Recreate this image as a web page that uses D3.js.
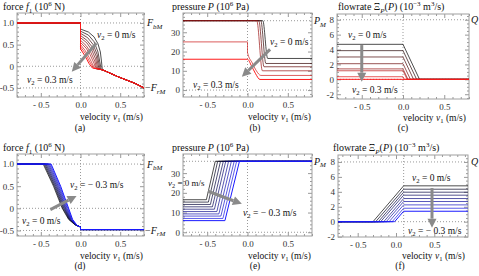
<!DOCTYPE html>
<html>
<head>
<meta charset="utf-8">
<script src="https://cdn.jsdelivr.net/npm/d3@7"></script>
<style>
body { margin: 0; background: #fff; }
svg { display: block; }
</style>
</head>
<body>
<div id="vis"></div>
<script>
// ---------- data ----------
var xTicks = [-0.5, 0, 0.5];
var xTickLabels = ['- 0.5', '0.0', '0.5'];

// (a) force f1, v2 = 0 .. 0.3 m/s, black -> red
var forceBrake = 1.0;   // F_bM
var forceRev = -0.5;    // -F_rM
var aBase = [[0.15,-0.04],[0.25,-0.07],[0.3,-0.1],[0.47,-0.24],[0.68,-0.39],[0.8,-0.5]];
var aFan = [
  [[0,0.86],[0.1,0.79],[0.17,0.68],[0.22,0.52],[0.25,0.33],[0.265,0.1],[0.275,-0.08]],
  [[0,0.81],[0.1,0.72],[0.17,0.57],[0.22,0.33],[0.261,-0.075]],
  [[0,0.76],[0.09,0.66],[0.16,0.5],[0.21,0.27],[0.247,-0.07]],
  [[0,0.71],[0.08,0.6],[0.15,0.44],[0.2,0.22],[0.233,-0.065]],
  [[0,0.66],[0.08,0.54],[0.14,0.38],[0.19,0.17],[0.219,-0.06]],
  [[0,0.6],[0.07,0.48],[0.13,0.32],[0.18,0.12],[0.206,-0.06]],
  [[0,0.55],[0.07,0.42],[0.12,0.27],[0.17,0.07],[0.192,-0.055]],
  [[0,0.5],[0.06,0.36],[0.11,0.2],[0.178,-0.05]],
  [[0,0.45],[0.06,0.3],[0.11,0.12],[0.164,-0.045]],
  [[0,0.4],[0.06,0.23],[0.105,0.07],[0.15,-0.04]]
];

// (b) pressure P, v2 = 0 .. 0.3 m/s, black -> red
var pressMax = 36;      // P_M
var bCurves = [
  [[-0.8,36],[0.19,36],[0.25,16.4],[0.8,16.4]],
  [[-0.8,36],[0.165,36],[0.228,13.8],[0.8,13.8]],
  [[-0.8,36],[0.14,36],[0.205,12.1],[0.8,12.1]],
  [[-0.8,36],[0.115,36],[0.185,10.0],[0.8,10.0]],
  [[-0.8,25],[0,25],[0.0001,19.5],[0.06,14],[0.11,10],[0.165,7.6],[0.8,7.6]],
  [[-0.8,16],[0,16],[0.05,12.5],[0.1,8.5],[0.155,5.5],[0.8,5.5]]
];

// (c) flowrate, v2 = 0 .. 0.3 m/s, black -> red
var flowMax = 8;        // Q_M
var cLevels = [4.7, 3.85, 3.0, 2.1, 1.4, 1.15, 0.35, 0];
var cEnd = [0.2, 0.165, 0.128, 0.09, 0.06, 0.05, 0.015, 0];

// (d) force f1, v2 = 0 .. -0.3 m/s, black -> blue
var dY = [1.0, 0.5, 0.0, -0.25, -0.37];
var dX = [
  [-0.470,-0.340,-0.230,-0.150,-0.070],
  [-0.459,-0.330,-0.221,-0.144,-0.068],
  [-0.448,-0.320,-0.212,-0.139,-0.066],
  [-0.437,-0.310,-0.203,-0.133,-0.063],
  [-0.426,-0.300,-0.194,-0.128,-0.061],
  [-0.414,-0.290,-0.186,-0.122,-0.059],
  [-0.403,-0.280,-0.177,-0.117,-0.057],
  [-0.392,-0.270,-0.168,-0.111,-0.054],
  [-0.381,-0.260,-0.159,-0.106,-0.052],
  [-0.370,-0.250,-0.150,-0.100,-0.050]
];
var dTail = [[-0.03,-0.40],[0,-0.42],[0,-0.48],[0.8,-0.48]];

// (e) pressure P, v2 = 0 .. -0.3 m/s, black -> blue
var eLow = [16.5, 15.3, 14.1, 12.9, 11.7, 10.5, 9.3, 8.2, 7.0, 5.9];
var eRise = [-0.51, -0.485, -0.46, -0.435, -0.41, -0.38, -0.355, -0.33, -0.305, -0.28];
var eTop = [-0.40, -0.37, -0.335, -0.30, -0.27, -0.235, -0.20, -0.165, -0.135, -0.10];

// (f) flowrate, v2 = 0 .. -0.3 m/s, black -> blue
var fLevels = [4.8, 4.35, 3.95, 3.55, 3.1, 2.7, 2.25, 1.8, 1.4];
var fStart = [-0.30, -0.265, -0.23, -0.2, -0.16, -0.127, -0.09, -0.05, -0.018];
var fCorner = 0.1;

// ---------- drawing ----------
var svg = d3.select('#vis').append('svg')
  .attr('width', 479)
  .attr('height', 276)
  .style('font-family', '"Liberation Serif", "Times New Roman", serif');

var black2red = d3.interpolateRgb('#000000', '#ff1a1a');
var black2blue = d3.interpolateRgb('#000000', '#1a1aff');

// text with italic / sub / sup pieces
function rich(g, x, y, parts, size, anchor) {
  var t = g.append('text')
    .attr('x', x).attr('y', y)
    .attr('font-size', size)
    .attr('fill', '#111')
    .attr('text-anchor', anchor || 'start');
  var shift = 0;
  parts.forEach(function(p) {
    var st = p[1] || '';
    var s = t.append('tspan').text(p[0]);
    var want = 0, fs = size;
    if (st.indexOf('sub') >= 0) { want = size * 0.25; fs = size * 0.7; }
    if (st.indexOf('sup') >= 0) { want = -size * 0.4; fs = size * 0.7; }
    if (st[0] === 'i') s.attr('font-style', 'italic');
    s.attr('dy', want - shift).attr('font-size', fs);
    shift = want;
  });
  return t;
}

function arrow(g, x1, y1, x2, y2) {
  var dx = x2 - x1, dy = y2 - y1, L = Math.sqrt(dx*dx + dy*dy);
  var ux = dx / L, uy = dy / L, hl = 9, hw = 4.5;
  var bx = x2 - ux * hl, by = y2 - uy * hl;
  g.append('line')
    .attr('x1', x1).attr('y1', y1).attr('x2', bx).attr('y2', by)
    .attr('stroke', '#8a8a8a').attr('stroke-width', 3);
  g.append('path')
    .attr('d', 'M' + x2 + ',' + y2 + 'L' + (bx - uy*hw) + ',' + (by + ux*hw) +
               'L' + (bx + uy*hw) + ',' + (by - ux*hw) + 'Z')
    .attr('fill', '#8a8a8a');
}

function isMajor(v, list) {
  return list.some(function(m) { return Math.abs(m - v) < 1e-9; });
}

function makePanel(p) {
  var g = svg.append('g');
  var x = d3.scaleLinear().domain(p.xd).range(p.xr);
  var y = d3.scaleLinear().domain(p.yd).range([p.yr[1], p.yr[0]]);

  // dotted reference lines
  p.hl.forEach(function(v) {
    g.append('line')
      .attr('x1', p.xr[0]).attr('x2', p.xr[1]).attr('y1', y(v)).attr('y2', y(v))
      .attr('stroke', '#999').attr('stroke-dasharray', '1,2');
  });
  p.vl.forEach(function(v) {
    g.append('line')
      .attr('x1', x(v)).attr('x2', x(v)).attr('y1', p.yr[0]).attr('y2', p.yr[1])
      .attr('stroke', '#999').attr('stroke-dasharray', '1,2');
  });

  // minor tick positions
  var xMin = d3.range(-20, 21).map(function(i) { return i / 10; })
    .filter(function(v) { return v >= p.xd[0] && v <= p.xd[1] && !isMajor(v, xTicks); });
  var yMin = d3.range(Math.ceil(p.yd[0] / p.ym), Math.floor(p.yd[1] / p.ym) + 1)
    .map(function(i) { return i * p.ym; })
    .filter(function(v) { return !isMajor(v, p.yt); });

  var axes = [
    [d3.axisBottom(x).tickValues(xTicks).tickFormat(function(d, i) { return xTickLabels[i]; }), 'translate(0,' + p.yr[1] + ')', 4],
    [d3.axisTop(x).tickValues(xTicks).tickFormat(''), 'translate(0,' + p.yr[0] + ')', 4],
    [d3.axisLeft(y).tickValues(p.yt).tickFormat(p.yf), 'translate(' + p.xr[0] + ',0)', 4],
    [d3.axisRight(y).tickValues(p.yt).tickFormat(''), 'translate(' + p.xr[1] + ',0)', 4],
    [d3.axisBottom(x).tickValues(xMin).tickFormat(''), 'translate(0,' + p.yr[1] + ')', 2],
    [d3.axisTop(x).tickValues(xMin).tickFormat(''), 'translate(0,' + p.yr[0] + ')', 2],
    [d3.axisLeft(y).tickValues(yMin).tickFormat(''), 'translate(' + p.xr[0] + ',0)', 2],
    [d3.axisRight(y).tickValues(yMin).tickFormat(''), 'translate(' + p.xr[1] + ',0)', 2]
  ];
  axes.forEach(function(a, i) {
    var ag = g.append('g').attr('transform', a[1])
      .call(a[0].tickSize(-a[2]).tickPadding(i === 0 ? 5 : 3));
    ag.attr('font-family', null).attr('font-size', 9);
    ag.select('.domain').remove();
    ag.selectAll('.tick line').attr('stroke', '#999');
    ag.selectAll('.tick text').attr('fill', '#333');
  });

  // frame
  g.append('rect')
    .attr('x', p.xr[0]).attr('y', p.yr[0])
    .attr('width', p.xr[1] - p.xr[0]).attr('height', p.yr[1] - p.yr[0])
    .attr('fill', 'none').attr('stroke', '#a0a0a0');

  var line = d3.line().x(function(d) { return x(d[0]); }).y(function(d) { return y(d[1]); });
  return { g: g, x: x, y: y, line: line };
}

function drawCurve(P, pts, color, width, curve) {
  P.g.append('path')
    .attr('d', P.line.curve(curve || d3.curveLinear)(pts))
    .attr('fill', 'none').attr('stroke', color).attr('stroke-width', width);
}

var fmtForce = function(d) { return d === 1 ? '1.0' : d === 0.5 ? '0.5' : d === 0 ? '0' : '-0.5'; };
var fmtInt = function(d) { return String(d); };

var rowTitle = [10, 151];
var rowVel = [120, 259];
var rowTag = [131, 269];

var velParts = [['velocity '], ['v', 'i'], ['1', 'sub'], [' (m/s)']];
var forceTitle = [['force '], ['f', 'i'], ['1', 'sub'], [' (10'], ['6', 'sup'], [' N)']];
var pressTitle = [['pressure '], ['P', 'i'], [' (10'], ['6', 'sup'], [' Pa)']];
var flowTitle = [['flowrate \u039E'], ['P', 'isub'], ['('], ['P', 'i'], [') (10'], ['\u22123', 'sup'], [' m'], ['3', 'sup'], ['/s)']];
function vLabel(rest) { return [['v', 'i'], ['2', 'sub'], [rest]]; }
function lw(k, n) { return k === n - 1 ? 1 : 0.7; }

// ---- (a) ----
var A = makePanel({ xr: [17, 144], yr: [13, 97], xd: [-0.8, 0.8], yd: [-0.71, 1.23],
  yt: [-0.5, 0, 0.5, 1], yf: fmtForce, ym: 0.1, hl: [forceBrake, 0, forceRev], vl: [0] });
aFan.forEach(function(fan, k) {
  var last = fan[fan.length - 1][0];
  var pts = [[-0.8, forceBrake], [0, forceBrake]].concat(fan, aBase.filter(function(p) { return p[0] > last; }));
  drawCurve(A, pts, black2red(k / (aFan.length - 1)), lw(k, aFan.length));
});
arrow(A.g, A.x(0.2), A.y(0.53), A.x(-0.11), A.y(-0.125));
rich(A.g, 97, 38, vLabel(' = 0 m/s'), 9.5);
rich(A.g, 27, 83, vLabel(' = 0.3 m/s'), 9.5);
rich(A.g, 3, rowTitle[0], forceTitle, 10);
rich(A.g, 80, rowVel[0], velParts, 9.5);
rich(A.g, 80, rowTag[0], [['(a)']], 9.5, 'middle');
rich(A.g, 147, A.y(forceBrake) + 3.5, [['F', 'i'], ['bM', 'isub']], 10);
rich(A.g, 145, A.y(forceRev) + 3.5, [['\u2212'], ['F', 'i'], ['rM', 'isub']], 10);

// ---- (b) ----
var B = makePanel({ xr: [183, 312], yr: [13, 97], xd: [-0.8, 0.8], yd: [-3.6, 40],
  yt: [0, 10, 20, 30], yf: fmtInt, ym: 2, hl: [pressMax, 0], vl: [0] });
bCurves.forEach(function(c, k) {
  drawCurve(B, c, black2red(k / (bCurves.length - 1)), lw(k, bCurves.length), d3.curveMonotoneX);
});
arrow(B.g, B.x(0.28), B.y(21.1), B.x(-0.07), B.y(6.9));
rich(B.g, 270, 45, vLabel(' = 0 m/s'), 9.5);
rich(B.g, 193, 88, vLabel(' = 0.3 m/s'), 9.5);
rich(B.g, 172, rowTitle[0], pressTitle, 10);
rich(B.g, 248, rowVel[0], velParts, 9.5);
rich(B.g, 255, rowTag[0], [['(b)']], 9.5, 'middle');
rich(B.g, 314, B.y(pressMax) + 3.5, [['P', 'i'], ['M', 'isub']], 10);

// ---- (c) ----
var C = makePanel({ xr: [337, 469], yr: [14, 99], xd: [-0.8, 0.8], yd: [-2.64, 8.77],
  yt: [-2, 0, 2, 4, 6, 8], yf: fmtInt, ym: 0.5, hl: [flowMax, 0], vl: [0] });
cLevels.forEach(function(L, k) {
  var pts = L > 0 ? [[-0.8, L], [0, L], [cEnd[k], 0], [0.8, 0]] : [[-0.8, 0], [0.8, 0]];
  drawCurve(C, pts, black2red(k / (cLevels.length - 1)), lw(k, cLevels.length));
});
arrow(C.g, C.x(-0.5), C.y(4.6), C.x(-0.5), C.y(-0.32));
rich(C.g, 348, 38, vLabel(' = 0 m/s'), 9.5);
rich(C.g, 352, 93, vLabel(' = 0.3 m/s'), 9.5);
rich(C.g, 338, rowTitle[0], flowTitle, 10);
rich(C.g, 403, rowVel[0] + 1, velParts, 9.5);
rich(C.g, 403, rowTag[0], [['(c)']], 9.5, 'middle');
rich(C.g, 471, C.y(flowMax) + 3.5, [['Q', 'i']], 10);

// ---- (d) ----
var D = makePanel({ xr: [17, 144], yr: [154, 236], xd: [-0.8, 0.8], yd: [-0.625, 1.227],
  yt: [-0.5, 0, 0.5, 1], yf: fmtForce, ym: 0.1, hl: [forceBrake, 0, forceRev], vl: [0] });
dX.forEach(function(xs, k) {
  var pts = [[-0.8, forceBrake]].concat(xs.map(function(v, i) { return [v, dY[i]]; }), dTail);
  drawCurve(D, pts, black2blue(k / (dX.length - 1)), lw(k, dX.length));
});
arrow(D.g, D.x(-0.38), D.y(-0.03), D.x(-0.05), D.y(0.28));
rich(D.g, 70, 188, vLabel(' = \u2212 0.3 m/s'), 9.5);
rich(D.g, 22, 224, vLabel(' = 0 m/s'), 9.5);
rich(D.g, 3, rowTitle[1], forceTitle, 10);
rich(D.g, 80, rowVel[1], velParts, 9.5);
rich(D.g, 80, rowTag[1], [['(d)']], 9.5, 'middle');
rich(D.g, 147, D.y(forceBrake) + 3.5, [['F', 'i'], ['bM', 'isub']], 10);
rich(D.g, 145, D.y(forceRev) + 3.5, [['\u2212'], ['F', 'i'], ['rM', 'isub']], 10);

// ---- (e) ----
var E = makePanel({ xr: [183, 312], yr: [154, 236], xd: [-0.8, 0.8], yd: [-1.9, 39.7],
  yt: [0, 10, 20, 30], yf: fmtInt, ym: 2, hl: [pressMax, 0], vl: [0] });
eLow.forEach(function(L, k) {
  var pts = [[-0.8, L], [eRise[k], L], [eTop[k], pressMax], [0.8, pressMax]];
  drawCurve(E, pts, black2blue(k / (eLow.length - 1)), lw(k, eLow.length));
});
arrow(E.g, E.x(-0.49), E.y(20.8), E.x(-0.07), E.y(14.4));
rich(E.g, 168, 185.5, vLabel(' = 0 m/s'), 9);
rich(E.g, 243, 216, vLabel(' = \u2212 0.3 m/s'), 9.5);
rich(E.g, 172, rowTitle[1], pressTitle, 10);
rich(E.g, 248, rowVel[1], velParts, 9.5);
rich(E.g, 255, rowTag[1], [['(e)']], 9.5, 'middle');
rich(E.g, 314, E.y(pressMax) + 3.5, [['P', 'i'], ['M', 'isub']], 10);

// ---- (f) ----
var F = makePanel({ xr: [338, 468], yr: [155, 237], xd: [-0.757, 0.94], yd: [-2.05, 8.93],
  yt: [-2, 0, 2, 4, 6, 8], yf: fmtInt, ym: 0.5, hl: [flowMax, 0], vl: [fCorner] });
fLevels.forEach(function(L, k) {
  var pts = [[-0.757, 0], [fStart[k], 0], [fCorner, L], [0.94, L]];
  drawCurve(F, pts, black2blue(k / (fLevels.length - 1)), lw(k, fLevels.length));
});
arrow(F.g, F.x(0.47), F.y(4.5), F.x(0.47), F.y(-0.8));
rich(F.g, 412, 181, vLabel(' = 0 m/s'), 9.5);
rich(F.g, 408, 234, vLabel(' = \u2212 0.3 m/s'), 9.5);
rich(F.g, 333, rowTitle[1], flowTitle, 10);
rich(F.g, 402, rowVel[1], velParts, 9.5);
rich(F.g, 400, rowTag[1], [['(f)']], 9.5, 'middle');
rich(F.g, 471, F.y(flowMax) + 3.5, [['Q', 'i']], 10);
</script>
</body>
</html>
